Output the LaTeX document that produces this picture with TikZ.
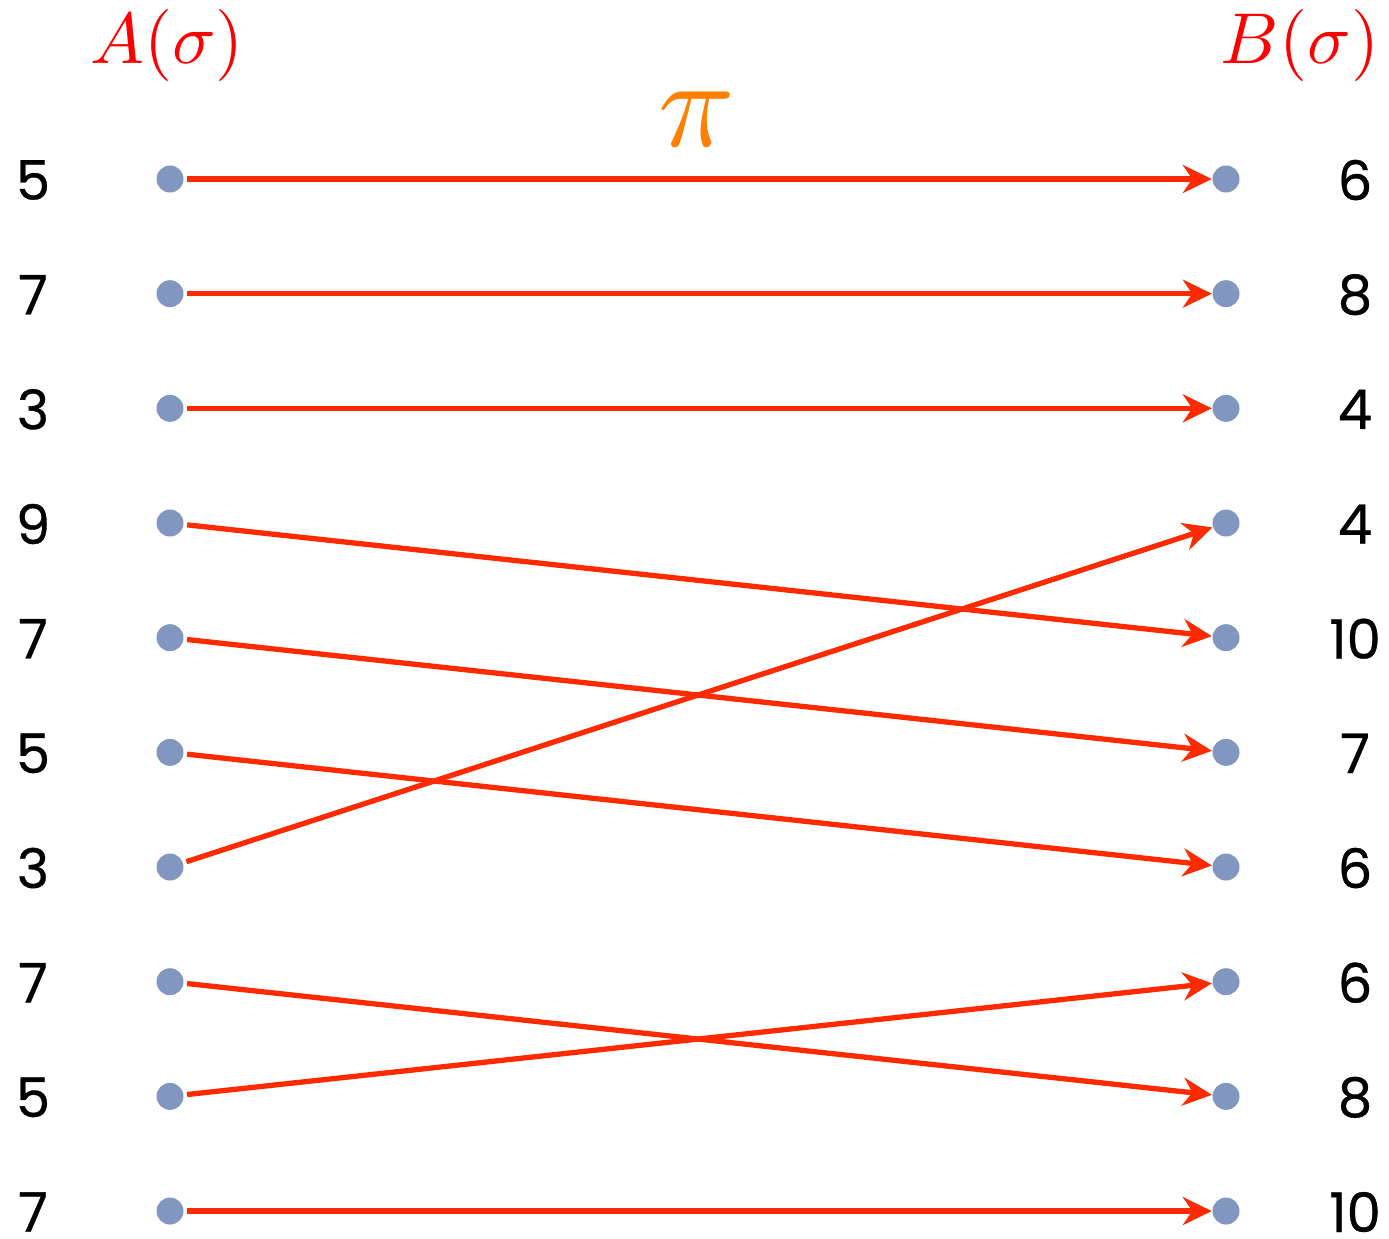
\documentclass[tikz,border=0pt]{standalone}
\usepackage{amsmath,amssymb}
\usepackage{fontspec}
\newfontfamily\digitfont[FakeBold=0.6]{Poppins}
\usetikzlibrary{arrows.meta}
\definecolor{dotblue}{RGB}{129,151,191}
\definecolor{linered}{RGB}{255,42,0}
\definecolor{piorange}{RGB}{255,128,0}

\begin{document}
\begin{tikzpicture}[
  dot/.style={circle,fill=dotblue,inner sep=0pt,minimum size=0.27cm},
  num/.style={inner sep=0pt,font=\digitfont\fontsize{15.5}{15.5}\selectfont},
  setlabel/.style={red,scale=2.05},
  map/.style={draw=linered,line width=1.5pt,-{Stealth[length=2.9mm,width=2.8mm]},shorten <=0.3mm}]
  \useasboundingbox (0,0) rectangle (13.89,-12.38);
  % the two columns of values
  \foreach \a/\b [count=\i] in {5/6,7/8,3/4,9/4,7/10,5/7,3/6,7/6,5/8,7/10}{
    \node[dot] (l\i) at (1.70,{-1.79-(\i-1)*1.1467}) {};
    \node[dot] (r\i) at (12.26,{-1.79-(\i-1)*1.1467}) {};
    \node[num] (a\i) at (0.33,{-1.80-(\i-1)*1.1467}) {\a};
    \node[num] (b\i) at (13.55,{-1.80-(\i-1)*1.1467}) {\b};
  }
  \node[setlabel] (A) at (1.67,-0.45) {$A(\sigma)$};
  \node[setlabel] (B) at (13.00,-0.45) {$B(\sigma)$};
  \node[piorange,scale=3.6] (pi) at (6.97,-1.19) {$\pi$};
  % the permutation
  \foreach \i/\j in {1/1,2/2,3/3,4/5,5/6,6/7,7/4,8/9,9/8,10/10}
    \draw[map] (l\i) -- (r\j);
\end{tikzpicture}
\end{document}
